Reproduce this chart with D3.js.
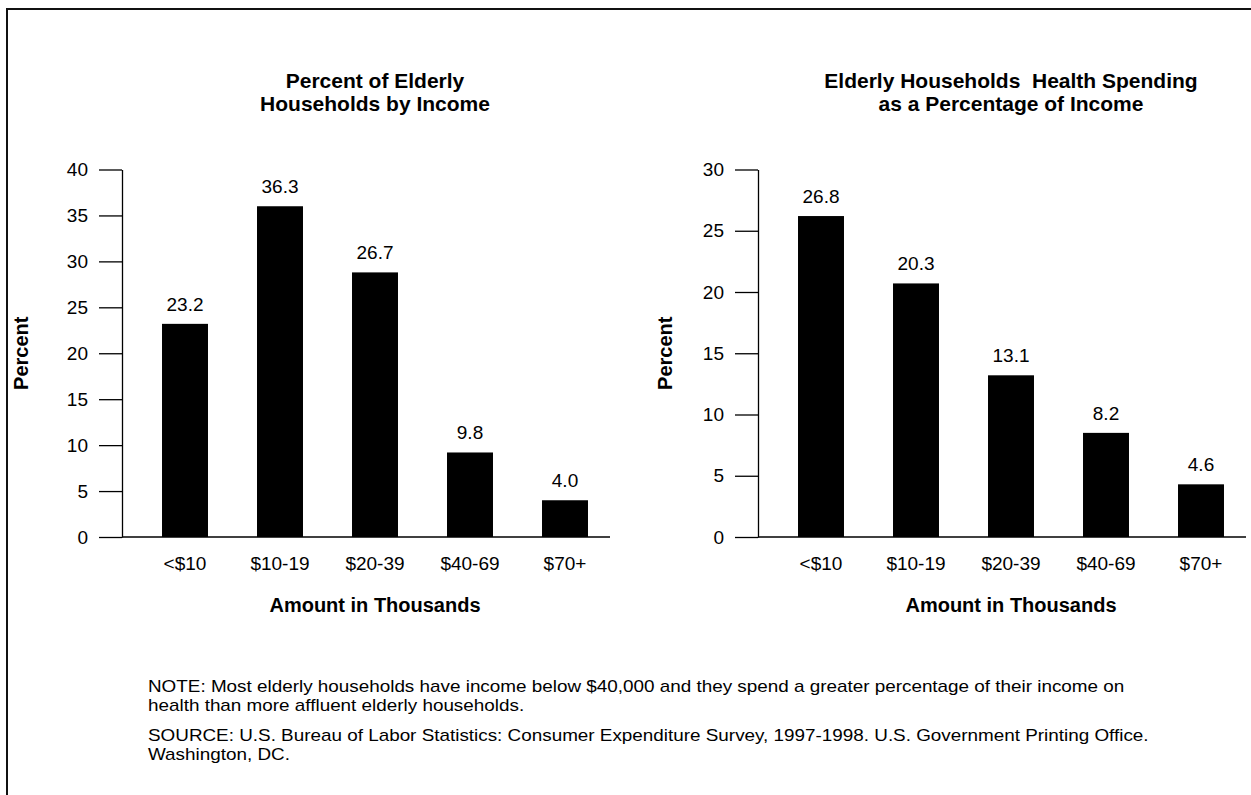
<!DOCTYPE html>
<html>
<head>
<meta charset="utf-8">
<script src="https://cdn.jsdelivr.net/npm/d3@7"></script>
<style>
  html, body { margin: 0; padding: 0; background: #fff; }
  svg { display: block; font-family: "Liberation Sans", Arial, Helvetica, sans-serif; }
  text { white-space: pre; }
</style>
</head>
<body>
<svg id="chart" width="1251" height="795"></svg>
<script>
// ---- data ----
const categories = ["<$10", "$10-19", "$20-39", "$40-69", "$70+"];
// printed value labels
const shareLabels = [23.2, 36.3, 26.7, 9.8, 4.0];
const healthLabels = [26.8, 20.3, 13.1, 8.2, 4.6];
// bar heights as drawn in the source picture
const shareBars = [23.2, 36.0, 28.8, 9.2, 4.0];
const healthBars = [26.2, 20.7, 13.2, 8.5, 4.3];
const shareTicks = [0, 5, 10, 15, 20, 25, 30, 35, 40];
const healthTicks = [0, 5, 10, 15, 20, 25, 30];
const titles = [
  ["Percent of Elderly", "Households by Income"],
  ["Elderly Households  Health Spending", "as a Percentage of Income"]
];
const yLabel = "Percent";
const xLabel = "Amount in Thousands";
const noteLines = [
  "NOTE: Most elderly households have income below $40,000 and they spend a greater percentage of their income on",
  "health than more affluent elderly households."
];
const sourceLines = [
  "SOURCE: U.S. Bureau of Labor Statistics: Consumer Expenditure Survey, 1997-1998. U.S. Government Printing Office.",
  "Washington, DC."
];

const svg = d3.select("#chart");

// outer frame (extends past the visible area)
svg.append("rect")
  .attr("x", 7).attr("y", 9).attr("width", 1300).attr("height", 900)
  .attr("fill", "none").attr("stroke", "#111").attr("stroke-width", 2);

const panels = [
  { bars: shareBars, labels: shareLabels, ticks: shareTicks, max: 40, title: titles[0], x0: 122, ylOff: 94 },
  { bars: healthBars, labels: healthLabels, ticks: healthTicks, max: 30, title: titles[1], x0: 758, ylOff: 86 }
];

const yTop = 169.5, yBottom = 537;

panels.forEach(p => {
  const g = svg.append("g");
  const y = d3.scaleLinear().domain([0, p.max]).range([yBottom, yTop]);
  const x = d3.scaleBand().domain(categories)
    .range([p.x0 + 15.5, p.x0 + 490.5])
    .paddingInner(0.516).paddingOuter(0.258);
  const cx = p.x0 + 253;

  // title
  const t = g.append("text").attr("text-anchor", "middle")
    .attr("font-weight", "bold").attr("font-size", 21).attr("fill", "#000");
  p.title.forEach((line, i) => {
    t.append("tspan").attr("x", cx).attr("y", 88 + i * 23).text(line);
  });

  // bars
  g.selectAll("rect.bar").data(p.bars).join("rect")
    .attr("class", "bar")
    .attr("x", (d, i) => x(categories[i]))
    .attr("width", x.bandwidth())
    .attr("y", d => y(d))
    .attr("height", d => y(0) - y(d))
    .attr("fill", "#000");

  // value labels
  g.selectAll("text.val").data(p.labels).join("text")
    .attr("class", "val")
    .attr("x", (d, i) => x(categories[i]) + x.bandwidth() / 2)
    .attr("y", (d, i) => y(p.bars[i]) - 13)
    .attr("text-anchor", "middle").attr("font-size", 19).attr("fill", "#000")
    .text(d => d.toFixed(1));

  // y axis
  const ya = g.append("g").attr("transform", `translate(${p.x0},0)`)
    .call(d3.axisLeft(y).tickValues(p.ticks).tickSize(23).tickSizeOuter(0).tickPadding(11));
  ya.selectAll("path, line").attr("stroke", "#000").attr("stroke-width", 1.3);
  ya.selectAll("text").attr("font-size", 19).attr("fill", "#000")
    .attr("font-family", "'Liberation Sans', Arial, sans-serif");

  // x axis
  const xa = g.append("g").attr("transform", `translate(0,${yBottom})`)
    .call(d3.axisBottom(x).tickSize(0).tickPadding(20));
  xa.select("path.domain").remove();
  xa.selectAll("text").attr("font-size", 19).attr("fill", "#000")
    .attr("font-family", "'Liberation Sans', Arial, sans-serif");
  g.append("line").attr("x1", p.x0).attr("x2", p.x0 + 488)
    .attr("y1", yBottom).attr("y2", yBottom)
    .attr("stroke", "#000").attr("stroke-width", 1.3);

  // axis titles
  g.append("text").attr("x", x.range()[0] + (x.range()[1] - x.range()[0]) / 2).attr("y", 612)
    .attr("text-anchor", "middle").attr("font-weight", "bold").attr("font-size", 20)
    .text(xLabel);
  g.append("text")
    .attr("transform", `translate(${p.x0 - p.ylOff},${(yTop + yBottom) / 2}) rotate(-90)`)
    .attr("text-anchor", "middle").attr("font-weight", "bold").attr("font-size", 20)
    .text(yLabel);
});

// footnotes (source type is horizontally wide)
const foot = svg.append("g").attr("font-size", 16).attr("fill", "#000");
const footLines = [
  { text: noteLines[0], y: 692 }, { text: noteLines[1], y: 711 },
  { text: sourceLines[0], y: 741 }, { text: sourceLines[1], y: 760 }
];
footLines.forEach(l => foot.append("text")
  .attr("transform", `translate(148,${l.y}) scale(1.18,1)`)
  .text(l.text));
</script>
</body>
</html>
